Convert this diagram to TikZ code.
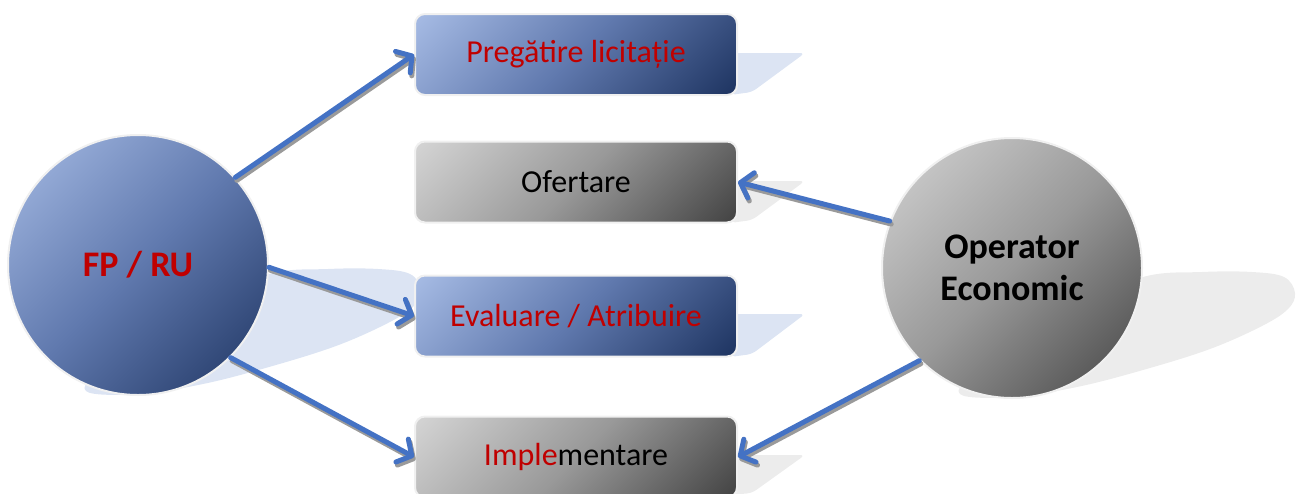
\documentclass[tikz,border=0pt]{standalone}
\usepackage{fontspec}
\setmainfont{Carlito}
\usetikzlibrary{arrows.meta}
\definecolor{arrblue}{HTML}{4472C4}
\definecolor{arrshadowc}{HTML}{9A9A9A}
\definecolor{redtxt}{HTML}{C00000}
\definecolor{bluelight}{HTML}{A6BBE4}
\definecolor{bluemid}{HTML}{6079AE}
\definecolor{bluedark}{HTML}{1E3461}
\definecolor{graylight}{HTML}{D4D4D4}
\definecolor{graymid}{HTML}{999999}
\definecolor{graydark}{HTML}{434343}
\definecolor{blueshadow}{HTML}{DCE4F3}
\definecolor{grayshadow}{HTML}{ECECEC}
\definecolor{rimc}{HTML}{F0F0F0}
\pgfdeclareverticalshading{bluegrad}{100bp}{color(0bp)=(bluedark); color(15bp)=(bluedark); color(50bp)=(bluemid); color(85bp)=(bluelight); color(100bp)=(bluelight)}
\pgfdeclareverticalshading{graygrad}{100bp}{color(0bp)=(graydark); color(15bp)=(graydark); color(50bp)=(graymid); color(85bp)=(graylight); color(100bp)=(graylight)}
\tikzset{
  boxbase/.style={rectangle, rounded corners=10pt, minimum width=322pt, minimum height=81pt,
    shade, shading angle=45, draw=rimc, line width=2pt, font=\fontsize{32}{38}\selectfont},
  bluebox/.style={boxbase, shading=bluegrad, text=redtxt},
  graybox/.style={boxbase, shading=graygrad, text=black},
  circbase/.style={circle, minimum size=260pt, inner sep=0pt, shade, shading angle=45,
    draw=rimc, line width=2pt, font=\bfseries\fontsize{36}{45}\selectfont, align=center},
  bluecirc/.style={circbase, shading=bluegrad, text=redtxt},
  graycirc/.style={circbase, shading=graygrad, text=black},
  conn/.style={draw=arrblue, line width=5pt, line cap=round, line join=round,
    -{Straight Barb[length=11pt,width=26pt,line cap=round,line join=round]}},
  connshadow/.style={draw=arrshadowc, line width=5pt, line cap=round, line join=round,
    -{Straight Barb[length=11pt,width=26pt,line cap=round,line join=round]},
    transform canvas={shift={(1.5pt,-3pt)}}},
  circshadow/.style={smooth cycle, tension=0.6},
}
\begin{document}
\begin{tikzpicture}[x=1pt,y=-1pt]
\useasboundingbox (0,0) rectangle (1298,493);
% circle shadows
\begin{scope}[shift={(138,265)}]
\fill[blueshadow] plot[circshadow] coordinates {(-52,126) (0,129) (65,119) (131,102) (198,81) (250,58) (276,41) (283,25) (272,9) (240,4) (190,4) (131,9) (60,40) (-30,100)};
\end{scope}
\begin{scope}[shift={(1012,268)}]
\fill[grayshadow] plot[circshadow] coordinates {(-52,126) (0,129) (65,119) (131,102) (198,81) (250,58) (276,41) (283,25) (272,9) (240,4) (190,4) (131,9) (60,40) (-30,100)};
\end{scope}
% box reflections
\fill[blueshadow, rounded corners=5pt] (730,53) -- (805,53) -- (752,92) -- (730,95) -- cycle;
\fill[grayshadow, rounded corners=5pt] (730,181) -- (805,181) -- (752,220) -- (730,223) -- cycle;
\fill[blueshadow, rounded corners=5pt] (730,314) -- (805,314) -- (752,354) -- (730,357) -- cycle;
\fill[grayshadow, rounded corners=5pt] (730,455) -- (805,455) -- (752,493) -- (730,495) -- cycle;
% nodes
\node[bluecirc] (fp) at (138,265) {\raisebox{-4pt}{FP / RU}};
\node[graycirc] (oe) at (1012,268) {\raisebox{-3pt}{Operator}\\Economic};
\node[bluebox] (b1) at (576,54.5) {Pregătire licitație};
\node[graybox] (b2) at (576,182) {\raisebox{-2pt}{Ofertare}};
\node[bluebox] (b3) at (576,316) {Evaluare / Atribuire};
\node[graybox] (b4) at (576,457) {\textcolor{redtxt}{Imple}mentare};
% connector shadows
\draw[connshadow] (fp.42) -- (b1.west);
\draw[connshadow] (fp.-1) -- (b3.west);
\draw[connshadow] (fp.-45) -- (b4.west);
\draw[connshadow] (oe.159) -- (b2.east);
\draw[connshadow] (oe.225) -- (b4.east);
% connectors
\draw[conn] (fp.42) -- (b1.west);
\draw[conn] (fp.-1) -- (b3.west);
\draw[conn] (fp.-45) -- (b4.west);
\draw[conn] (oe.159) -- (b2.east);
\draw[conn] (oe.225) -- (b4.east);
\end{tikzpicture}
\end{document}
